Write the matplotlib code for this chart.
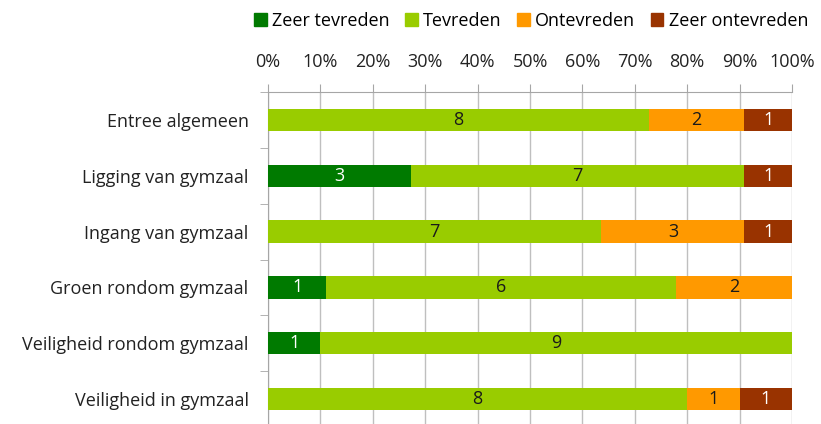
import matplotlib.pyplot as plt
import numpy as np
from matplotlib.patches import Patch

categories = ["Entree algemeen", "Ligging van gymzaal", "Ingang van gymzaal",
              "Groen rondom gymzaal", "Veiligheid rondom gymzaal", "Veiligheid in gymzaal"]
series = ["Zeer tevreden", "Tevreden", "Ontevreden", "Zeer ontevreden"]
zeer_tevreden = [0, 3, 0, 1, 1, 0]
tevreden = [8, 7, 7, 6, 9, 8]
ontevreden = [2, 0, 3, 2, 0, 1]
zeer_ontevreden = [1, 1, 1, 0, 0, 1]

colors = ["#007A00", "#99CC00", "#FF9900", "#993300"]
text_colors = ["white", "#1a1a1a", "#1a1a1a", "white"]

plt.rcParams['font.family'] = ['Open Sans', 'DejaVu Sans']

counts = np.array([zeer_tevreden, tevreden, ontevreden, zeer_ontevreden], dtype=float)
totals = counts.sum(axis=0)
shares = counts / totals * 100

fig = plt.figure(figsize=(8.21, 4.24), dpi=100)
ax = fig.add_axes([268 / 821, -3 / 424, 524 / 821, 335 / 424])

y = np.arange(len(categories))
left = np.zeros(len(categories))
for i, name in enumerate(series):
    ax.barh(y, shares[i], left=left, height=0.4, color=colors[i], zorder=3)
    for j in range(len(categories)):
        if counts[i, j] > 0:
            ax.text(left[j] + shares[i, j] / 2, y[j], "%d" % counts[i, j],
                    ha="center", va="center", fontsize=13, color=text_colors[i], zorder=4)
    left += shares[i]

ax.set_xlim(0, 100)
ax.set_ylim(len(categories) - 0.5, -0.5)
ax.xaxis.tick_top()
ax.set_xticks(np.arange(0, 101, 10))
ax.set_xticklabels(["%d%%" % v for v in range(0, 101, 10)], fontsize=13, color="#222222")
ax.tick_params(axis="x", direction="out", length=6, color="#a6a6a6", pad=9)
ax.xaxis.grid(True, color="#bfbfbf", linewidth=1, zorder=0)

ax.set_yticks(y)
ax.set_yticklabels(categories, fontsize=13, color="#222222")
ax.set_yticks(np.arange(-0.5, len(categories), 1), minor=True)
ax.tick_params(axis="y", which="major", length=0, pad=14)
ax.tick_params(axis="y", which="minor", length=6, color="#a6a6a6", direction="out")

for side in ["right", "bottom"]:
    ax.spines[side].set_visible(False)
for side in ["top", "left"]:
    ax.spines[side].set_color("#a6a6a6")

handles = [Patch(color=c, label=s) for c, s in zip(colors, series)]
fig.legend(handles=handles, loc="center", bbox_to_anchor=(531 / 821, 1 - 21 / 424),
           ncol=4, frameon=False, fontsize=13, handlelength=0.7, handleheight=0.7,
           handletextpad=0.3, columnspacing=0.85)

fig.savefig("out.png", dpi=100)
